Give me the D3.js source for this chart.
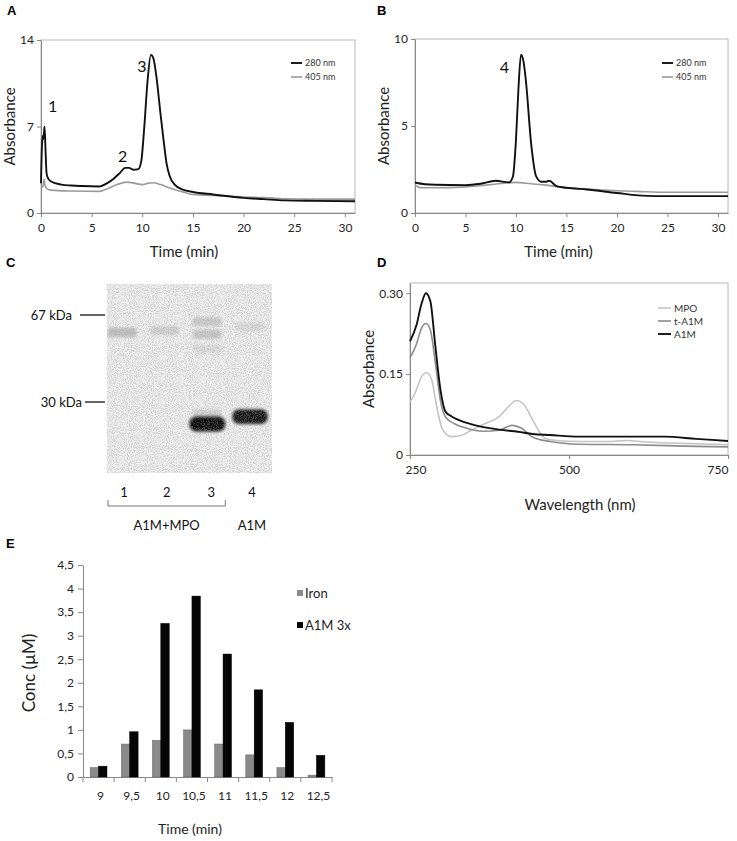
<!DOCTYPE html>
<html>
<head>
<meta charset="utf-8">
<script src="https://cdn.jsdelivr.net/npm/d3@7"></script>
<style>
body { margin: 0; background: #fff; }
svg { font-family: Lato, "Open Sans", sans-serif; }
.panel-label { font-family: "Liberation Sans", Arial, sans-serif; font-weight: bold; font-size: 13px; }
</style>
</head>
<body>
<div id="viz"></div>
<script>
const width = 737;
const height = 841;

// A: gel filtration of A1M + MPO, [time (min), absorbance]
const a280 = [[0,2.4],[0.1,5.5],[0.2,6.3],[0.25,6.0],[0.35,7.0],[0.45,5.0],[0.55,3.2],[0.7,2.8],[1,2.55],[2,2.3],[3,2.22],[4,2.18],[5.8,2.15],[6.5,2.4],[7.2,2.8],[7.8,3.25],[8.3,3.65],[8.7,3.65],[9.1,3.5],[9.6,3.55],[9.9,4.2],[10.2,7.0],[10.5,10.5],[10.85,12.8],[11.1,12.5],[11.4,11.0],[11.8,8.0],[12.1,5.9],[12.4,4.0],[12.7,3.0],[13.2,2.3],[14,1.9],[15,1.7],[17,1.5],[20,1.22],[22,1.12],[24,1.02],[27,0.98],[31,0.95]];
const a405 = [[0,2.0],[0.2,2.2],[0.3,2.75],[0.4,2.2],[0.6,1.95],[1,1.85],[3,1.78],[5.8,1.75],[6.5,1.95],[7.5,2.3],[8.5,2.5],[9.3,2.4],[10,2.3],[10.5,2.4],[11.1,2.45],[11.8,2.3],[12.8,2.0],[14,1.7],[15,1.5],[17,1.42],[20,1.3],[22,1.25],[24,1.15],[27,1.12],[31,1.12]];
// peak numbers: [label, time, absorbance]
const aPeaks = [["1", 0.7, 8.2], ["2", 7.6, 4.1], ["3", 9.5, 11.4]];

// B: gel filtration of A1M alone
const b280 = [[0,1.75],[1,1.65],[2,1.62],[5,1.6],[6.5,1.68],[8,1.85],[9.3,1.76],[9.7,2.1],[10,4.2],[10.25,7.2],[10.5,9.1],[10.75,8.7],[11,7.5],[11.5,4.0],[12,2.1],[12.5,1.8],[13,1.8],[13.3,1.85],[14,1.55],[15,1.45],[17,1.35],[20,1.15],[22.5,1.0],[25,0.97],[31,0.97]];
const b405 = [[0,1.62],[0.5,1.46],[2,1.45],[5,1.5],[7,1.6],[9,1.72],[10,1.76],[11.5,1.68],[13,1.6],[15,1.45],[17,1.38],[20,1.28],[22,1.24],[25,1.19],[31,1.19]];
const bPeaks = [["4", 8.4, 8.05]];

// C: SDS-PAGE, lanes and bands (kDa, darkness 0-1)
const gelLanes = [1, 2, 3, 4];
const gelMarkers = [67, 30];
const gelBands = [
    {lane: 1, kda: 57, level: 0.2},
    {lane: 2, kda: 58, level: 0.12},
    {lane: 3, kda: 63, level: 0.15},
    {lane: 3, kda: 56, level: 0.16},
    {lane: 3, kda: 49, level: 0.07},
    {lane: 4, kda: 60, level: 0.08},
    {lane: 3, kda: 27, level: 0.1},
    {lane: 3, kda: 24.5, level: 1},
    {lane: 4, kda: 26.2, level: 0.95}
];

// D: absorbance spectra, [wavelength (nm), absorbance]
const specMPO = [[250,0.098],[258,0.115],[268,0.145],[276,0.153],[284,0.14],[292,0.09],[300,0.05],[309,0.037],[315,0.034],[330,0.036],[345,0.045],[364,0.056],[390,0.071],[405,0.09],[417,0.101],[428,0.095],[443,0.065],[455,0.04],[464,0.03],[480,0.027],[516,0.025],[560,0.025],[590,0.027],[620,0.024],[700,0.021],[750,0.019]];
const specTA1M = [[250,0.18],[260,0.205],[268,0.235],[275,0.244],[282,0.232],[290,0.17],[298,0.1],[306,0.07],[320,0.058],[338,0.05],[365,0.044],[390,0.046],[411,0.055],[425,0.05],[443,0.033],[470,0.025],[516,0.02],[600,0.019],[700,0.016],[750,0.015]];
const specA1M = [[250,0.211],[260,0.24],[268,0.28],[275,0.30],[282,0.285],[290,0.2],[298,0.12],[306,0.08],[315,0.072],[338,0.06],[360,0.053],[390,0.047],[420,0.043],[443,0.039],[470,0.037],[516,0.034],[560,0.034],[600,0.034],[650,0.034],[700,0.03],[750,0.026]];

// E: iron and A1M in fractions
const fractions = ["9", "9,5", "10", "10,5", "11", "11,5", "12", "12,5"];
const iron = [0.2, 0.7, 0.78, 1.0, 0.7, 0.47, 0.2, 0.04];
const a1m3x = [0.23, 0.96, 3.26, 3.84, 2.61, 1.85, 1.16, 0.46];

const svg = d3.select("#viz")
    .append("svg")
    .attr("width", width)
    .attr("height", height);

const styleAxis = g => {
    g.attr("font-family", null).attr("font-size", 12);
    g.selectAll(".domain, .tick line").attr("stroke", "#888");
    g.selectAll(".tick text").attr("fill", "#222");
};

const panelLabel = (txt, x, y) => svg.append("text")
    .attr("class", "panel-label")
    .attr("x", x).attr("y", y)
    .text(txt);

function linePanel(p) {
    const x = d3.scaleLinear().domain(p.xDomain).range([p.left, p.right]);
    const y = d3.scaleLinear().domain(p.yDomain).range([p.bottom, p.top]);

    svg.append("rect")
        .attr("x", p.left).attr("y", p.top)
        .attr("width", p.right - p.left).attr("height", p.bottom - p.top)
        .attr("fill", "none").attr("stroke", "#b8b8b8");

    const xAxisG = svg.append("g")
        .attr("transform", `translate(0, ${p.bottom})`)
        .call(d3.axisBottom(x).tickValues(p.xTicks).tickSize(4).tickSizeOuter(0).tickPadding(6).tickFormat(d3.format("d")))
        .call(styleAxis);

    svg.append("g")
        .attr("transform", `translate(${p.left}, 0)`)
        .call(d3.axisLeft(y).tickValues(p.yTicks).tickSize(4).tickSizeOuter(0).tickPadding(3).tickFormat(p.yFormat))
        .call(styleAxis);

    const line = d3.line()
        .x(d => x(d[0]))
        .y(d => y(d[1]))
        .curve(d3.curveMonotoneX);

    p.series.forEach(s => {
        svg.append("path")
            .attr("d", line(s.data))
            .attr("fill", "none")
            .attr("stroke", s.color)
            .attr("stroke-width", s.width)
            .attr("stroke-linejoin", "round");
    });

    // legend
    const legendItems = p.legend.reverse ? p.series.slice().reverse() : p.series;
    legendItems.forEach((s, i) => {
        const ly = p.legend.y + i * p.legend.step;
        svg.append("line")
            .attr("x1", p.legend.x).attr("x2", p.legend.x + p.legend.len)
            .attr("y1", ly).attr("y2", ly)
            .attr("stroke", s.color).attr("stroke-width", s.width);
        svg.append("text")
            .attr("x", p.legend.x + p.legend.len + 3).attr("y", ly)
            .attr("dy", "0.35em")
            .attr("font-size", p.legend.size)
            .attr("fill", "#333")
            .text(s.name);
    });

    svg.append("text")
        .attr("x", (p.left + p.right) / 2 + p.xLabelDx)
        .attr("y", p.xLabelY)
        .attr("text-anchor", "middle")
        .attr("font-size", p.labelSize)
        .attr("fill", "#222")
        .text(p.xLabel);

    svg.append("text")
        .attr("transform", `translate(${p.yLabelX}, ${(p.top + p.bottom) / 2}) rotate(-90)`)
        .attr("text-anchor", "middle")
        .attr("font-size", p.labelSize)
        .attr("fill", "#222")
        .text("Absorbance");

    (p.peaks || []).forEach(d => {
        svg.append("text")
            .attr("x", x(d[1])).attr("y", y(d[2]))
            .attr("font-size", 16).attr("fill", "#111")
            .text(d[0]);
    });

    return {x, y, xAxisG};
}

// ---------- A ----------
panelLabel("A", 7, 15);
linePanel({
    left: 41, right: 355, top: 40, bottom: 213,
    xDomain: [0, 31], yDomain: [0, 14],
    xTicks: [0, 5, 10, 15, 20, 25, 30], yTicks: [0, 7, 14], yFormat: d3.format("d"),
    series: [
        {name: "405 nm", data: a405, color: "#9a9a9a", width: 1.6},
        {name: "280 nm", data: a280, color: "#111", width: 1.9}
    ],
    legend: {x: 291, y: 63, step: 14, len: 11, size: 9, reverse: true},
    xLabel: "Time (min)", xLabelY: 257, xLabelDx: -14,
    yLabelX: 15, labelSize: 15,
    peaks: aPeaks
});

// ---------- B ----------
panelLabel("B", 377, 15);
linePanel({
    left: 415, right: 728, top: 39, bottom: 213,
    xDomain: [0, 31], yDomain: [0, 10],
    xTicks: [0, 5, 10, 15, 20, 25, 30], yTicks: [0, 5, 10], yFormat: d3.format("d"),
    series: [
        {name: "405 nm", data: b405, color: "#9a9a9a", width: 1.6},
        {name: "280 nm", data: b280, color: "#111", width: 1.9}
    ],
    legend: {x: 662, y: 63, step: 14, len: 11, size: 9, reverse: true},
    xLabel: "Time (min)", xLabelY: 257, xLabelDx: -13,
    yLabelX: 389, labelSize: 15,
    peaks: bPeaks
});

// ---------- C ----------
panelLabel("C", 6, 267);
const gel = {left: 107, right: 272, top: 284, bottom: 473};
const kdaY = d3.scaleLog().domain([67, 30]).range([315, 402]);
const laneX = d3.scalePoint().domain(gelLanes).range([122, 250]);
const bandColor = d3.scaleLinear().domain([0, 1]).range(["#eeeeee", "#0b0b0b"]);

const defs = svg.append("defs");
defs.append("filter").attr("id", "blur")
    .attr("x", "-30%").attr("y", "-80%").attr("width", "160%").attr("height", "260%")
    .append("feGaussianBlur").attr("stdDeviation", 1.8);
const noise = defs.append("filter").attr("id", "noise");
noise.append("feTurbulence").attr("type", "fractalNoise").attr("baseFrequency", 0.95).attr("numOctaves", 2).attr("seed", 7);
noise.append("feColorMatrix").attr("type", "matrix")
    .attr("values", "0 0 0 0 0.35  0 0 0 0 0.35  0 0 0 0 0.35  0 0 0 -4 2.3");
defs.append("clipPath").attr("id", "gelclip")
    .append("rect")
    .attr("x", gel.left).attr("y", gel.top)
    .attr("width", gel.right - gel.left).attr("height", gel.bottom - gel.top);

const gelG = svg.append("g").attr("clip-path", "url(#gelclip)");
gelG.append("rect")
    .attr("x", gel.left).attr("y", gel.top)
    .attr("width", gel.right - gel.left).attr("height", gel.bottom - gel.top)
    .attr("fill", "#efefef");
gelG.selectAll("rect.band")
    .data(gelBands)
    .enter()
    .append("rect")
    .attr("class", "band")
    .attr("x", d => laneX(d.lane) - (14 + 4 * d.level))
    .attr("width", d => 28 + 8 * d.level)
    .attr("y", d => kdaY(d.kda) - (4 + 3.5 * d.level))
    .attr("height", d => 8 + 7 * d.level)
    .attr("rx", d => 3 + 4 * d.level)
    .attr("fill", d => bandColor(d.level))
    .attr("filter", "url(#blur)");
gelG.append("rect")
    .attr("x", gel.left).attr("y", gel.top)
    .attr("width", gel.right - gel.left).attr("height", gel.bottom - gel.top)
    .attr("filter", "url(#noise)")
    .attr("opacity", 0.35);

gelMarkers.forEach((m, i) => {
    svg.append("line")
        .attr("x1", i === 0 ? 80 : 85).attr("x2", 105)
        .attr("y1", kdaY(m)).attr("y2", kdaY(m))
        .attr("stroke", "#111").attr("stroke-width", 1.3);
    svg.append("text")
        .attr("x", i === 0 ? 72 : 82).attr("y", kdaY(m))
        .attr("dy", "0.35em")
        .attr("text-anchor", "end")
        .attr("font-size", 13).attr("fill", "#111")
        .text(m + " kDa");
});

svg.selectAll("text.lane")
    .data(gelLanes)
    .enter()
    .append("text")
    .attr("class", "lane")
    .attr("x", d => laneX(d) + (d === 3 ? 4 : 2))
    .attr("y", 497)
    .attr("text-anchor", "middle")
    .attr("font-size", 13).attr("fill", "#111")
    .text(d => d);

svg.append("path")
    .attr("d", `M${laneX(1) - 14},500V506H${laneX(3) + 18}V500`)
    .attr("fill", "none").attr("stroke", "#777").attr("stroke-width", 1);
svg.append("text")
    .attr("x", (laneX(1) + laneX(3)) / 2 + 2).attr("y", 530)
    .attr("text-anchor", "middle").attr("font-size", 13).attr("fill", "#111")
    .text("A1M+MPO");
svg.append("text")
    .attr("x", laneX(4) + 2).attr("y", 530)
    .attr("text-anchor", "middle").attr("font-size", 13).attr("fill", "#111")
    .text("A1M");

// ---------- D ----------
panelLabel("D", 377, 267);
const pd = linePanel({
    left: 410, right: 728, top: 283, bottom: 455,
    xDomain: [250, 750], yDomain: [0, 0.319],
    xTicks: [250, 500, 750], yTicks: [0, 0.15, 0.30],
    yFormat: d => d === 0 ? "0" : d3.format(".2f")(d),
    series: [
        {name: "MPO", data: specMPO, color: "#c4c4c4", width: 1.6},
        {name: "t-A1M", data: specTA1M, color: "#8c8c8c", width: 1.6},
        {name: "A1M", data: specA1M, color: "#111", width: 1.9}
    ],
    legend: {x: 658, y: 308, step: 13, len: 13, size: 10, reverse: false},
    xLabel: "Wavelength (nm)", xLabelY: 510, xLabelDx: 11,
    yLabelX: 374, labelSize: 15
});
pd.xAxisG.selectAll(".tick text")
    .attr("text-anchor", (d, i, n) => i === 0 ? "start" : (i === n.length - 1 ? "end" : "middle"))
    .attr("dx", (d, i) => i === 0 ? -5 : 0);

// ---------- E ----------
panelLabel("E", 6, 548);
const eLeft = 83, eRight = 332, eTop = 565, eBottom = 777;
const x0 = d3.scaleBand().domain(fractions).range([eLeft, eRight]);
const x1 = d3.scaleBand().domain(["Iron", "A1M 3x"]).range([0, x0.bandwidth()]).paddingOuter(0.85);
const yE = d3.scaleLinear().domain([0, 4.5]).range([eBottom, eTop]);
const barColors = {"Iron": "#8a8a8a", "A1M 3x": "#050505"};

svg.append("g")
    .attr("transform", `translate(${eLeft}, 0)`)
    .call(d3.axisLeft(yE).tickValues(d3.range(0, 4.51, 0.5)).tickSize(5).tickSizeOuter(0).tickPadding(4)
        .tickFormat(d => String(d).replace(".", ",")))
    .call(styleAxis);

const eX = svg.append("g")
    .attr("transform", `translate(0, ${eBottom})`)
    .call(d3.axisBottom(x0).tickSize(0).tickSizeOuter(0).tickPadding(14))
    .call(styleAxis);
eX.selectAll(".tick text").attr("dx", 2);
eX.selectAll("line.sep")
    .data(fractions.concat([null]))
    .enter()
    .append("line")
    .attr("class", "sep")
    .attr("x1", d => d === null ? eRight : x0(d))
    .attr("x2", d => d === null ? eRight : x0(d))
    .attr("y1", 0).attr("y2", 5)
    .attr("stroke", "#888");

const rows = fractions.map((f, i) => ({f, "Iron": iron[i], "A1M 3x": a1m3x[i]}));
svg.append("g")
    .selectAll("g")
    .data(rows)
    .enter()
    .append("g")
    .attr("transform", d => `translate(${x0(d.f)}, 0)`)
    .selectAll("rect")
    .data(d => x1.domain().map(k => ({k, v: d[k]})))
    .enter()
    .append("rect")
    .attr("x", d => x1(d.k))
    .attr("width", x1.bandwidth())
    .attr("y", d => yE(d.v))
    .attr("height", d => yE(0) - yE(d.v))
    .attr("fill", d => barColors[d.k])
    .attr("stroke", d => d.k === "Iron" ? "#666" : "#000")
    .attr("stroke-width", 0.5);

x1.domain().forEach((k, i) => {
    svg.append("rect")
        .attr("x", 297).attr("y", 590 + i * 32)
        .attr("width", 6).attr("height", 6)
        .attr("fill", barColors[k]);
    svg.append("text")
        .attr("x", 305).attr("y", 593 + i * 32)
        .attr("dy", "0.35em")
        .attr("font-size", 13).attr("fill", "#222")
        .text(k);
});

svg.append("text")
    .attr("x", 190).attr("y", 834)
    .attr("text-anchor", "middle").attr("font-size", 14).attr("fill", "#222")
    .text("Time (min)");
svg.append("text")
    .attr("transform", `translate(35, ${(eTop + eBottom) / 2 + 2}) rotate(-90)`)
    .attr("text-anchor", "middle").attr("font-size", 17).attr("fill", "#222")
    .text("Conc (µM)");
</script>
</body>
</html>
